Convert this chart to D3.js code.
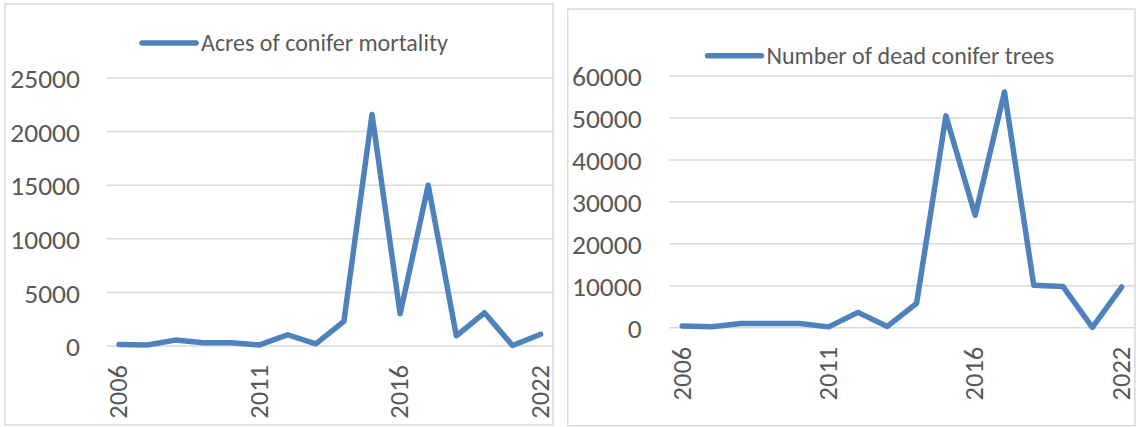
<!DOCTYPE html>
<html>
<head>
<meta charset="utf-8">
<script src="https://cdn.jsdelivr.net/npm/d3@7"></script>
<style>
  body { margin: 0; background: #fff; }
  text { font-family: Carlito, Calibri, Lato, sans-serif; fill: #595959; }
</style>
</head>
<body>
<svg id="chart" width="1136" height="427"></svg>
<script>
// years on the category axis (no 2020 survey)
const years = ["2006", "2007", "2008", "2009", "2010", "2011", "2012", "2013",
  "2014", "2015", "2016", "2017", "2018", "2019", "2021", "2022"];
const shownYears = ["2006", "2011", "2016", "2022"];

const acres = [150, 100, 550, 300, 300, 100, 1050, 200,
  2300, 21600, 3000, 15000, 950, 3100, 50, 1100];
const deadTrees = [400, 250, 1000, 1000, 1000, 200, 3650, 300,
  5800, 50500, 26800, 56200, 10100, 9800, 100, 9700];

const acresTicks = [0, 5000, 10000, 15000, 20000, 25000];
const treeTicks = [0, 10000, 20000, 30000, 40000, 50000, 60000];

const blue = "#4f81bd";
const grid = "#d9d9d9";
const fontSize = 24;
const axisFont = 27.5;
const yearFont = 26.5;

const svg = d3.select("#chart");
svg.append("rect").attr("width", 1136).attr("height", 427).attr("fill", "#fff");

function drawPanel(p) {
  const g = svg.append("g");

  g.append("rect")
    .attr("x", p.box[0]).attr("y", p.box[1])
    .attr("width", p.box[2] - p.box[0]).attr("height", p.box[3] - p.box[1])
    .attr("fill", "#fff").attr("stroke", grid).attr("stroke-width", 1.5);

  const x = d3.scalePoint().domain(years).range(p.xRange).padding(0.5);
  const y = d3.scaleLinear().domain([0, d3.max(p.ticks)]).range(p.yRange);

  // gridlines + y labels
  const yAxis = d3.axisLeft(y).tickValues(p.ticks).tickSize(0).tickPadding(0)
    .tickFormat(d3.format("d"));
  const ya = g.append("g").attr("transform", `translate(${p.labelRight},0)`).call(yAxis);
  ya.select(".domain").remove();
  ya.selectAll("text").attr("fill", "#595959").attr("font-size", axisFont)
    .attr("font-family", null).attr("dy", "0.35em");

  g.selectAll(".grid").data(p.ticks).join("line")
    .attr("x1", p.gridX[0]).attr("x2", p.gridX[1])
    .attr("y1", d => y(d)).attr("y2", d => y(d))
    .attr("stroke", grid).attr("stroke-width", 1.5);

  // rotated x labels
  g.selectAll(".xl").data(shownYears).join("text")
    .attr("transform", d => `translate(${x(d) - 1},${p.xLabelTop}) rotate(-90)`)
    .attr("text-anchor", "end").attr("dy", "0.35em")
    .attr("font-size", yearFont).text(d => d);

  const line = d3.line().x((d, i) => x(years[i])).y(d => y(d));
  g.append("path").datum(p.values)
    .attr("d", line).attr("fill", "none").attr("stroke", blue)
    .attr("stroke-width", 5.5).attr("stroke-linejoin", "round").attr("stroke-linecap", "round");

  // legend
  g.append("line")
    .attr("x1", p.legend[0]).attr("x2", p.legend[0] + 54)
    .attr("y1", p.legend[1]).attr("y2", p.legend[1])
    .attr("stroke", blue).attr("stroke-width", 5.5).attr("stroke-linecap", "round");
  g.append("text").attr("x", p.legend[0] + 59).attr("y", p.legend[1])
    .attr("dy", "0.35em").attr("font-size", fontSize).text(p.name);
}

drawPanel({
  name: "Acres of conifer mortality",
  values: acres, ticks: acresTicks,
  box: [5, 4, 553, 425],
  xRange: [105, 554.7], yRange: [346, 78],
  gridX: [106.7, 553], labelRight: 80, xLabelTop: 365,
  legend: [142, 43]
});

drawPanel({
  name: "Number of dead conifer trees",
  values: deadTrees, ticks: treeTicks,
  box: [567.7, 9, 1135, 425.7],
  xRange: [667.6, 1136.3], yRange: [327.7, 76],
  gridX: [669.3, 1134], labelRight: 641.7, xLabelTop: 346.7,
  legend: [707.5, 55.7]
});
</script>
</body>
</html>
